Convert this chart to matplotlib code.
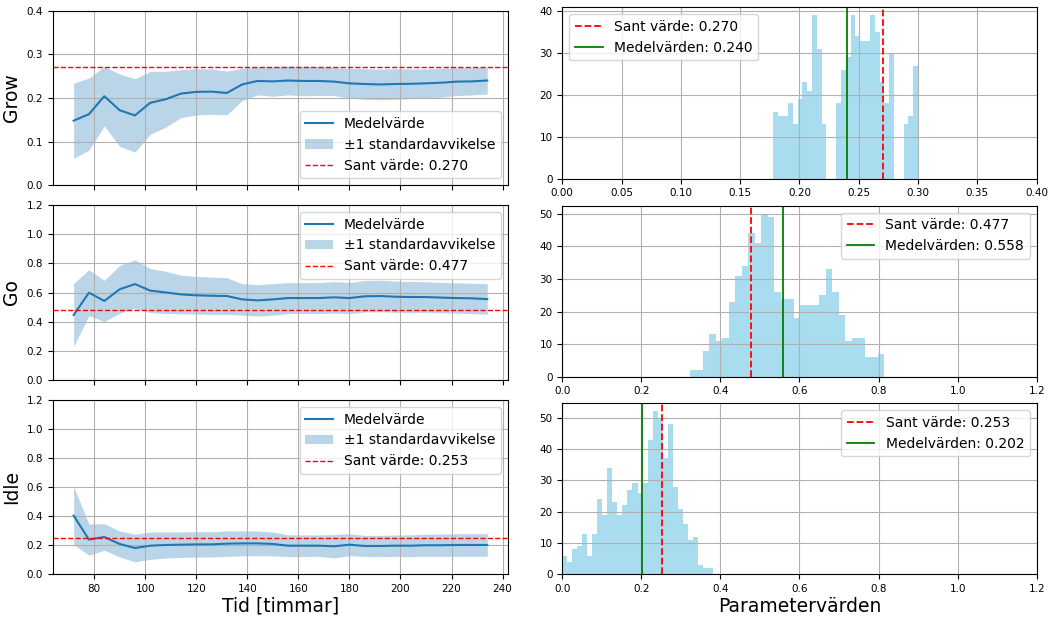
import numpy as np
import matplotlib
matplotlib.use("Agg")
import matplotlib.pyplot as plt

# ---------------- data ----------------
times = [72, 78, 84, 90, 96, 102, 108, 114, 120, 126, 132, 138, 144, 150,
         156, 162, 168, 174, 180, 186, 192, 198, 204, 210, 216, 222, 228, 234]

grow_mean = [0.148, 0.163, 0.204, 0.172, 0.160, 0.189, 0.197, 0.210, 0.214, 0.2145,
             0.2115, 0.231, 0.239, 0.238, 0.240, 0.239, 0.239, 0.2375, 0.2335, 0.232,
             0.231, 0.232, 0.2325, 0.2335, 0.235, 0.2375, 0.238, 0.240]
grow_std = [0.086, 0.0825, 0.068, 0.083, 0.084, 0.072, 0.064, 0.055, 0.053, 0.052,
            0.050, 0.037, 0.032, 0.034, 0.033, 0.034, 0.033, 0.032, 0.034, 0.035,
            0.035, 0.035, 0.034, 0.033, 0.033, 0.032, 0.031, 0.031]

go_mean = [0.446, 0.599, 0.542, 0.622, 0.658, 0.613, 0.601, 0.587, 0.581, 0.578,
           0.576, 0.553, 0.546, 0.553, 0.562, 0.562, 0.562, 0.567, 0.562, 0.574,
           0.576, 0.571, 0.569, 0.569, 0.565, 0.562, 0.560, 0.555]
go_std = [0.216, 0.158, 0.1415, 0.1635, 0.166, 0.151, 0.145, 0.1325, 0.129, 0.128,
          0.126, 0.1075, 0.1075, 0.1085, 0.106, 0.106, 0.106, 0.108, 0.107, 0.108,
          0.108, 0.107, 0.107, 0.105, 0.104, 0.104, 0.104, 0.105]

idle_mean = [0.404, 0.239, 0.257, 0.209, 0.181, 0.197, 0.202, 0.204, 0.206, 0.206,
             0.211, 0.213, 0.213, 0.209, 0.197, 0.197, 0.197, 0.193, 0.204, 0.195,
             0.195, 0.197, 0.197, 0.200, 0.200, 0.202, 0.202, 0.202]
idle_std = [0.200, 0.1075, 0.0915, 0.0895, 0.095, 0.094, 0.090, 0.0875, 0.0875, 0.087,
            0.088, 0.086, 0.085, 0.0825, 0.0745, 0.0745, 0.074, 0.0805, 0.076, 0.073,
            0.073, 0.074, 0.075, 0.076, 0.077, 0.078, 0.078, 0.078]

param_names = ["Grow", "Go", "Idle"]
true_values = [0.270, 0.477, 0.253]
est_means = [0.240, 0.558, 0.202]

# histogram bin ranges (min, max of samples) and counts (30 bins each)
grow_range = (0.178, 0.300)
grow_counts = [16, 15, 15, 18, 13, 19, 23, 21, 39, 31, 13, 0, 0, 18, 26,
               29, 39, 34, 33, 33, 39, 35, 23, 18, 30, 0, 0, 13, 15, 27]
go_range = (0.323, 0.814)
go_counts = [2, 2, 8, 13, 11, 12, 23, 31, 34, 44, 41, 50, 49, 26, 24,
             24, 18, 22, 22, 22, 25, 33, 26, 19, 11, 12, 12, 6, 6, 7]
idle_range = (0.0, 0.3805)
idle_counts = [6, 4, 8, 9, 13, 6, 13, 24, 19, 34, 23, 19, 22, 27, 29,
               26, 29, 43, 52, 50, 37, 48, 28, 21, 16, 11, 12, 3, 2, 2]

left_yticks = [[0.0, 0.1, 0.2, 0.3, 0.4],
               [0.0, 0.2, 0.4, 0.6, 0.8, 1.0, 1.2],
               [0.0, 0.2, 0.4, 0.6, 0.8, 1.0, 1.2]]
time_ticks = [80, 100, 120, 140, 160, 180, 200, 220, 240]

# ---------------- figure ----------------
fig = plt.figure(figsize=(10.51, 6.17), dpi=100)

left_boxes = [(0.0504, 0.6997, 0.4329, 0.2830),
              (0.0504, 0.3841, 0.4329, 0.2836),
              (0.0504, 0.0692, 0.4329, 0.2825)]
right_boxes = [(0.5350, 0.7104, 0.4514, 0.2778),
               (0.5350, 0.3895, 0.4514, 0.2771),
               (0.5350, 0.0692, 0.4514, 0.2771)]

means = [grow_mean, go_mean, idle_mean]
stds = [grow_std, go_std, idle_std]
ranges = [grow_range, go_range, idle_range]
counts = [grow_counts, go_counts, idle_counts]
ylims_left = [(0, 0.4), (0, 1.2), (0, 1.2)]
xlims_right = [(0, 0.4), (0, 1.2), (0, 1.2)]
left_legend_loc = ["lower right", "upper right", "upper right"]
right_legend_loc = ["upper left", "upper right", "upper right"]

tick_fs = 7.5
legend_fs = 10
label_fs = 13.5

t = np.array(times)
left_axes = []
for i in range(3):
    ax = fig.add_axes(left_boxes[i], sharex=left_axes[0] if left_axes else None)
    left_axes.append(ax)
    m = np.array(means[i])
    s = np.array(stds[i])
    ax.plot(t, m, color="#1f77b4", lw=1.5, label="Medelvärde")
    ax.fill_between(t, m - s, m + s, color="#1f77b4", alpha=0.3, lw=0,
                    label="±1 standardavvikelse")
    ax.axhline(true_values[i], color="red", ls="--", lw=1,
               label=f"Sant värde: {true_values[i]:.3f}")
    ax.set_ylim(*ylims_left[i])
    ax.set_yticks(left_yticks[i])
    ax.set_ylabel(param_names[i], fontsize=label_fs)
    ax.grid(True)
    ax.tick_params(labelsize=tick_fs)
    ax.legend(loc=left_legend_loc[i], fontsize=legend_fs)
    if i < 2:
        ax.tick_params(labelbottom=False)
left_axes[2].set_xticks(time_ticks)
left_axes[2].set_xlabel("Tid [timmar]", fontsize=label_fs, labelpad=2)

for i in range(3):
    ax = fig.add_axes(right_boxes[i])
    lo, hi = ranges[i]
    c = np.array(counts[i], dtype=float)
    edges = np.linspace(lo, hi, len(c) + 1)
    centers = 0.5 * (edges[:-1] + edges[1:])
    ax.hist(centers, bins=edges, weights=c, color="skyblue", alpha=0.7)
    ax.axvline(true_values[i], color="red", ls="--", lw=1.3,
               label=f"Sant värde: {true_values[i]:.3f}")
    ax.axvline(est_means[i], color="green", lw=1.3,
               label=f"Medelvärden: {est_means[i]:.3f}")
    ax.set_xlim(*xlims_right[i])
    ax.grid(True)
    ax.tick_params(labelsize=tick_fs)
    ax.legend(loc=right_legend_loc[i], fontsize=legend_fs)
    if i == 2:
        ax.set_xlabel("Parametervärden", fontsize=label_fs, labelpad=2)

fig.savefig("out.png", dpi=100)
